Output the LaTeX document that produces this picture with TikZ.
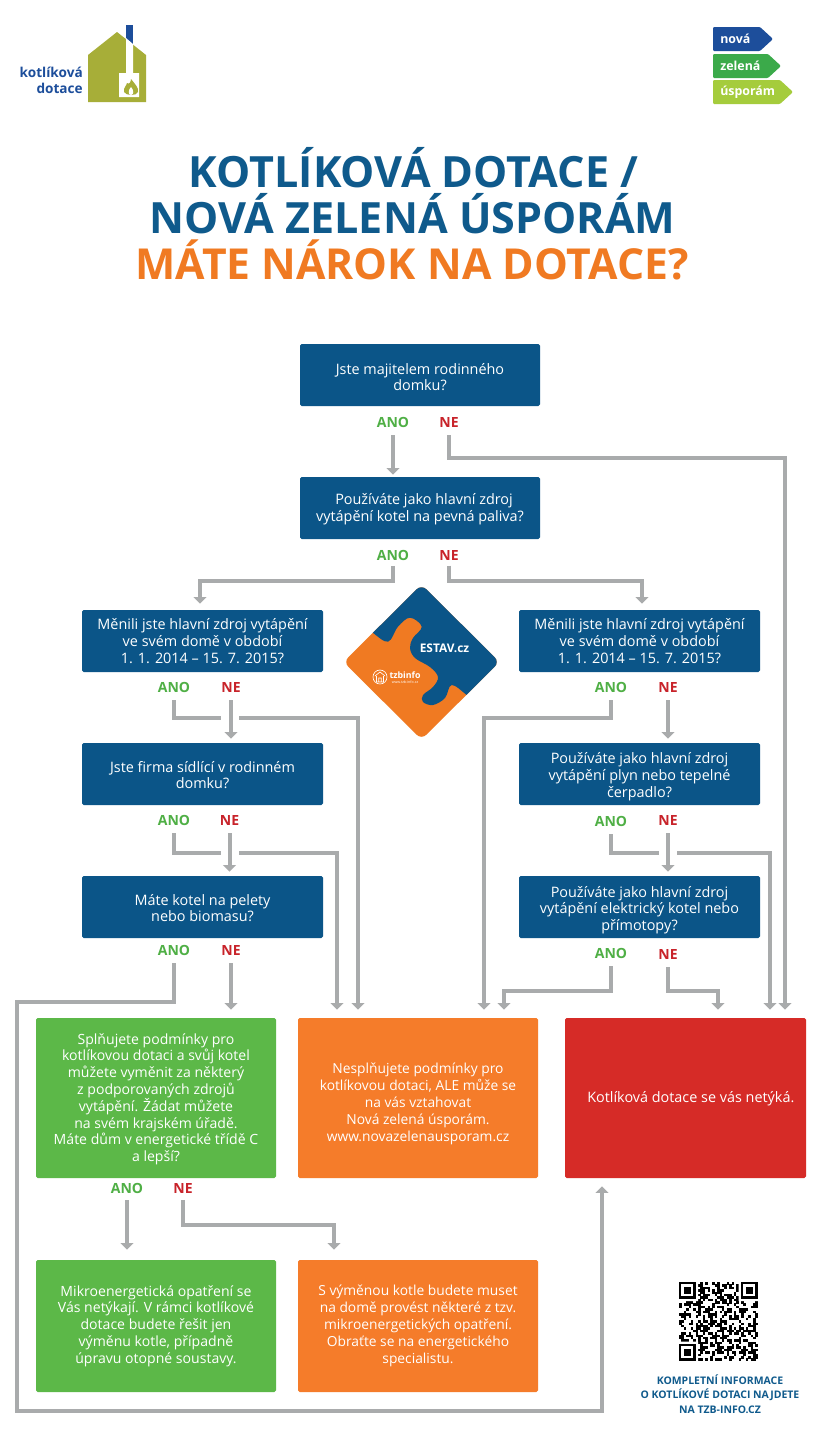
\documentclass[tikz,border=0pt]{standalone}
\usepackage{fontspec}
\setmainfont{Open Sans}
\usetikzlibrary{arrows.meta,calc}
\definecolor{qblue}{HTML}{0B5588}
\definecolor{tblue}{HTML}{0F5A8C}
\definecolor{torange}{HTML}{F07A22}
\definecolor{bgreen}{HTML}{5CB848}
\definecolor{borange}{HTML}{F57C2A}
\definecolor{bred}{HTML}{D62B27}
\definecolor{gline}{HTML}{A9ABAC}
\definecolor{lano}{HTML}{4FAF45}
\definecolor{lne}{HTML}{C8232A}
\definecolor{olive}{HTML}{A7AE38}
\definecolor{lblue}{HTML}{1D4E9B}
\definecolor{ngreen}{HTML}{3BAA4A}
\definecolor{nlime}{HTML}{A5CC3C}
\tikzset{
  x=0.75pt,y=-0.75pt,
  box/.style={rounded corners=1.2pt,text=white,align=center,inner sep=0pt,font=\fontsize{10.8pt}{12.6pt}\selectfont},
  ano/.style={text=lano,font=\fontsize{10.5pt}{12pt}\selectfont\bfseries,inner sep=0pt},
  ne/.style={text=lne,font=\fontsize{10.5pt}{12pt}\selectfont\bfseries,inner sep=0pt},
  conn/.style={draw=gline,line width=3pt,line join=miter,shorten <=6pt},
  arr/.style={conn,-{Triangle[length=5pt,width=9.5pt]}},
  ttl/.style={font=\fontsize{32.3pt}{38pt}\selectfont\bfseries,inner sep=0pt},
  tag/.style={text=white,font=\fontsize{9.3pt}{10pt}\selectfont\bfseries,inner sep=0pt,anchor=west},
  gbox/.style={fill=bgreen,font=\fontsize{10.55pt}{12.6pt}\selectfont},
  obox/.style={fill=borange,font=\fontsize{10.35pt}{12.7pt}\selectfont},
}
\newcommand{\bx}[7]{\node[box,#6,minimum width={(#4-#2)*0.75pt},minimum height={(#5-#3)*0.75pt}] (#1) at ({(#2+#4)/2},{(#3+#5)/2}) {#7};}
\newcommand{\dn}[1]{\rule{0pt}{\dimexpr 8.3pt+#1\relax}}
\begin{document}
\begin{tikzpicture}
\useasboundingbox (0,0) rectangle (825,1432);
\fill[white] (0,0) rectangle (825,1432);
% logo house
\fill[olive] (88,55) -- (117,32) -- (146,55) -- (146,102) -- (88,102) -- cycle;
\fill[lblue] (126,25) rectangle (133,44);
\fill[white] (126,38) -- (133,44) -- (133,73) -- (139,73) -- (139,97) -- (119,97) -- (119,73) -- (126,73) -- cycle;
\fill[olive] (131,79) .. controls (135,84) and (139,88) .. (138,92) .. controls (137,96) and (126,96) .. (124,92) .. controls (123,88) and (127,85) .. (127,83) .. controls (129,85) and (131,82) .. (131,79) -- cycle;
\fill[white] (131,87) .. controls (134,90) and (134,95) .. (131,95) .. controls (128,95) and (128,90) .. (131,87) -- cycle;
\node[text=lblue,anchor=east,align=right,inner sep=0pt,font=\fontsize{10.2pt}{12pt}\selectfont\bfseries] (lt) at (83,80) {kotlíková\\dotace};
% NZU tags
\fill[lblue,rounded corners=0.8pt] (713,27) -- (760,27) -- (773,39) -- (760,51) -- (713,51) -- cycle;
\fill[ngreen,rounded corners=0.8pt] (713,54) -- (768,54) -- (781,66) -- (768,78) -- (713,78) -- cycle;
\fill[nlime,rounded corners=0.8pt] (713,80) -- (780,80) -- (793,92) -- (780,104) -- (713,104) -- cycle;
\node[tag] (n1) at (720,39) {nová};
\node[tag] (n2) at (720,66) {zelená};
\node[tag] (n3) at (720,92) {úsporám};
% title
\node[ttl,text=tblue] (t1) at (413.5,168) {KOTLÍKOVÁ DOTACE /};
\node[ttl,text=tblue] (t2) at (412.5,214) {NOVÁ ZELENÁ ÚSPORÁM};
\node[ttl,text=torange,font=\fontsize{32pt}{38pt}\selectfont\bfseries] (t3) at (412,260) {MÁTE NÁROK NA DOTACE?};
% puzzle logo
\begin{scope}
\fill[torange,rounded corners=5pt] (421.5,584.5) -- (499.5,662) -- (421.5,739.5) -- (343.5,662) -- cycle;
\clip[rounded corners=5pt] (421.5,584.5) -- (499.5,662) -- (421.5,739.5) -- (343.5,662) -- cycle;
\fill[qblue] plot[smooth,tension=0.6] coordinates {(366,627) (372.7,632.7) (388,641.7) (398,626.7) (410,617.7) (421.7,626.7) (413,638) (410,648) (415,658) (430,667) (438,677) (433,687) (423,695) (423,702) (433,705) (445,698) (451.7,685) (466.7,695) (475,702)} -- (520,662) -- (421.5,560) -- cycle;
\end{scope}
\node[text=white,inner sep=0pt,font=\fontsize{8.9pt}{9pt}\selectfont\bfseries] (estav) at (444.5,648) {ESTAV.cz};
\node[text=white,inner sep=0pt,font=\fontsize{6.6pt}{7pt}\selectfont\bfseries] (tzb) at (405,675.5) {tzbinfo};
\node[text=white,inner sep=0pt,font=\fontsize{2.7pt}{3pt}\selectfont] (tzbw) at (405,682) {www.tzb-info.cz};
\draw[white,line width=0.5pt] (380,677) circle (7);
\draw[white,line width=0.5pt] (375,676) -- (380,672) -- (385,676) (376.5,676) -- (376.5,682) -- (383.5,682) -- (383.5,676) (378.8,682) -- (378.8,678) -- (381.2,678) -- (381.2,682);
% boxes
\bx{q1}{300}{344}{540}{406}{fill=qblue}{\dn{3pt}Jste majitelem rodinného\\domku?}
\bx{q2}{300}{477}{540}{539}{fill=qblue}{\dn{2.2pt}\hspace*{6pt}Používáte jako hlavní zdroj\\vytápění kotel na pevná paliva?}
\bx{l1}{82}{610}{323}{672}{fill=qblue}{Měnili jste hlavní zdroj vytápění\\ve svém domě v období\\1. 1. 2014 – 15. 7. 2015?}
\bx{r1}{519}{610}{760}{672}{fill=qblue}{Měnili jste hlavní zdroj vytápění\\ve svém domě v období\\1. 1. 2014 – 15. 7. 2015?}
\bx{l2}{82}{743}{323}{805}{fill=qblue}{\dn{1.5pt}Jste firma sídlící v rodinném\\domku?}
\bx{r2}{519}{743}{760}{805}{fill=qblue}{\dn{3.8pt}Používáte jako hlavní zdroj\\vytápění plyn nebo tepelné\\čerpadlo?}
\bx{l3}{82}{876}{323}{938}{fill=qblue}{\dn{1.5pt}Máte kotel na pelety\\nebo biomasu?}
\bx{r3}{519}{876}{760}{938}{fill=qblue}{\dn{4.5pt}Používáte jako hlavní zdroj\\vytápění elektrický kotel nebo\\přímotopy?}
\bx{g1}{36}{1018}{276}{1178}{gbox}{\dn{1.5pt}Splňujete podmínky pro\\kotlíkovou dotaci a svůj kotel\\můžete vyměnit za některý\\z podporovaných zdrojů\\vytápění. Žádat můžete\\na svém krajském úřadě.\\Máte dům v energetické třídě C\\a lepší?}
\bx{o1}{298}{1018}{538}{1178}{obox}{\dn{8.5pt}Nesplňujete podmínky pro\\kotlíkovou dotaci, ALE může se\\na vás vztahovat\\Nová zelená úsporám.\\www.novazelenausporam.cz}
\bx{x1}{565}{1018}{806}{1178}{fill=bred}{\dn{1.5pt}\hspace*{8pt}Kotlíková dotace se vás netýká.}
\bx{g2}{36}{1260}{276}{1392}{gbox}{Mikroenergetická opatření se\\Vás netýkají. V rámci kotlíkové\\dotace budete řešit jen\\výměnu kotle, případně\\úpravu otopné soustavy.}
\bx{o2}{298}{1260}{538}{1392}{obox}{S výměnou kotle budete muset\\na domě provést některé z tzv.\\mikroenergetických opatření.\\Obraťte se na energetického\\specialistu.}
% labels
\node[ano] (aq1) at (393,422) {ANO}; \node[ne] (nq1) at (449,422) {NE};
\node[ano] (aq2) at (393,555) {ANO}; \node[ne] (nq2) at (449,555) {NE};
\node[ano] (al1) at (174,687) {ANO}; \node[ne] (nl1) at (231,687) {NE};
\node[ano] (ar1) at (611,687) {ANO}; \node[ne] (nr1) at (668,687) {NE};
\node[ano] (al2) at (174,820) {ANO}; \node[ne] (nl2) at (229.5,820) {NE};
\node[ano] (ar2) at (611,821) {ANO}; \node[ne] (nr2) at (668,820) {NE};
\node[ano] (al3) at (174,950) {ANO}; \node[ne] (nl3) at (231,950) {NE};
\node[ano] (ar3) at (611,953) {ANO}; \node[ne] (nr3) at (668,954) {NE};
\node[ano] (ag1) at (127,1188) {ANO}; \node[ne] (ng1) at (183,1188) {NE};
% waypoints
\coordinate (c1) at (785,458);
\coordinate (c2) at (200,581); \coordinate (c3) at (642,581);
\coordinate (c4) at (221,718); \coordinate (c5) at (239,718); \coordinate (c6) at (358,718);
\coordinate (c7) at (221,853); \coordinate (c8) at (239,853); \coordinate (c9) at (337,853);
\coordinate (c10) at (17,1002); \coordinate (c11) at (17,1411); \coordinate (c12) at (602,1411);
\coordinate (c13) at (484,718);
\coordinate (c14) at (659,853); \coordinate (c15) at (677,853); \coordinate (c16) at (770,853);
\coordinate (c17) at (504,991); \coordinate (c18) at (718,991);
\coordinate (c19) at (334,1225);
% connectors
\draw[arr,shorten >=1.5pt] (aq1.south) -- (aq1.south |- q2.north);
\draw[arr,shorten >=6pt] (nq1.south) |- (c1) -- (c1 |- x1.north);
\draw[arr,shorten >=4.5pt,shorten <=4pt] (aq2.south) |- (c2) -- (c2 |- l1.north);
\draw[arr,shorten >=4.5pt,shorten <=4pt] (nq2.south) |- (c3) -- (c3 |- r1.north);
\draw[conn] (al1.south) |- (c4);
\draw[arr,shorten >=3pt] (nl1.south) -- (nl1.south |- l2.north);
\draw[arr,shorten >=6pt,shorten <=0pt] (c5) -- (c6) -- (c6 |- o1.north);
\draw[conn] (al2.south) |- (c7);
\draw[arr,shorten >=3pt] (nl2.south) -- (nl2.south |- l3.north);
\draw[arr,shorten >=6pt,shorten <=0pt] (c8) -- (c9) -- (c9 |- o1.north);
\draw[arr,shorten >=6pt] (al3.south) |- (c10) -- (c11) -- (c12) -- (c12 |- x1.south);
\draw[arr,shorten >=6pt] (nl3.south) -- (nl3.south |- g1.north);
\draw[arr,shorten >=6pt] (ar1.south) |- (c13) -- (c13 |- o1.north);
\draw[arr,shorten >=3pt] (nr1.south) -- (nr1.south |- r2.north);
\draw[conn] (ar2.south) |- (c14);
\draw[arr,shorten >=3pt] (nr2.south) -- (nr2.south |- r3.north);
\draw[arr,shorten >=6pt,shorten <=0pt] (c15) -- (c16) -- (c16 |- x1.north);
\draw[arr,shorten >=6pt] (ar3.south) |- (c17) -- (c17 |- o1.north);
\draw[arr,shorten >=6pt] (nr3.south) |- (c18) -- (c18 |- x1.north);
\draw[arr,shorten >=7.5pt,shorten <=5pt] (ag1.south) -- (ag1.south |- g2.north);
\draw[arr,shorten >=7.5pt,shorten <=5pt] (ng1.south) |- (c19) -- (c19 |- o2.north);
% QR
\begin{scope}[shift={(679,1282)},x=1.79pt,y=-1.79pt]
\foreach \i in {0,...,32}{\foreach \j in {0,...,32}{
  \pgfmathtruncatemacro{\v}{mod(mod(\i*\i,11)*7+mod(\j*\j,13)*5+mod(\i*\j,7)*3+\i,11)<5 ? 1 : 0}
  \ifnum\v=1 \fill[black] (\i,\j) rectangle (\i+1.05,\j+1.05);\fi
}}
\fill[white] (0,0) rectangle (8,8) (25,0) rectangle (33,8) (0,25) rectangle (8,33);
\foreach \a/\b in {0/0,26/0,0/26}{
  \fill[black] (\a,\b) rectangle (\a+7,\b+7);
  \fill[white] (\a+1,\b+1) rectangle (\a+6,\b+6);
  \fill[black] (\a+2,\b+2) rectangle (\a+5,\b+5);
}
\end{scope}
\node[text=tblue,align=center,inner sep=0pt,font=\fontsize{7.85pt}{10.9pt}\selectfont\bfseries] (info) at (720,1394) {KOMPLETNÍ INFORMACE\\O KOTLÍKOVÉ DOTACI NAJDETE\\NA TZB-INFO.CZ};
\end{tikzpicture}
\end{document}
